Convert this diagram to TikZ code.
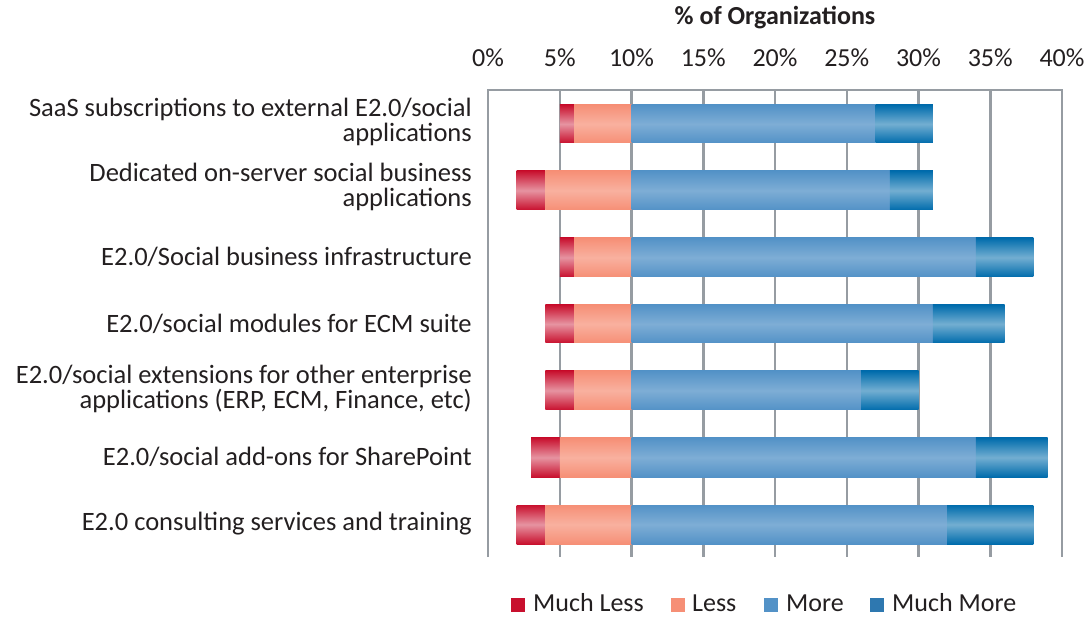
\documentclass[tikz,border=0pt]{standalone}
\usepackage{fontspec}
\setmainfont{Carlito}
\usepackage{tikz}
\usetikzlibrary{positioning}
\definecolor{mlcol}{RGB}{200,16,46}
\definecolor{lcol}{RGB}{246,143,118}
\definecolor{mcol}{RGB}{83,146,199}
\definecolor{mmcol}{RGB}{0,108,172}
\definecolor{mmleg}{RGB}{46,120,176}
\definecolor{gridcol}{RGB}{150,156,162}
\definecolor{txtcol}{RGB}{35,31,32}
\tikzstyle{catlabel} = [anchor=east, align=right, inner sep=0pt, text=txtcol,
    font=\fontsize{26.5}{25}\selectfont]
\tikzstyle{ticklabel} = [anchor=center, inner sep=0pt, text=txtcol,
    font=\fontsize{26}{23}\selectfont]
\tikzstyle{legtext} = [anchor=west, inner sep=0pt, text=txtcol,
    font=\fontsize{26}{23}\selectfont]
\tikzstyle{gridline} = [draw=gridcol, line width=2.5pt]
\tikzstyle{muchless} = [top color=mlcol, bottom color=mlcol, middle color=mlcol!45!white]
\tikzstyle{less} = [top color=lcol, bottom color=lcol, middle color=lcol!70!white]
\tikzstyle{more} = [top color=mcol, bottom color=mcol, middle color=mcol!75!white]
\tikzstyle{muchmore} = [top color=mmcol, bottom color=mmcol, middle color=mmcol!55!white]

\begin{document}
\begin{tikzpicture}[x=1pt, y=-1pt]
\useasboundingbox (0,0) rectangle (1090,617);
% axis title and tick labels
\node[ticklabel, font=\fontsize{26}{23}\selectfont\bfseries] (title) at (775,18) {\% of Organizations};
\foreach \p in {0,5,...,40}
    \node[ticklabel] (tick\p) at (488+14.35*\p,58) {\p\%};
% grid
\foreach \p in {5,10,...,35}
    \draw[gridline] (488+14.35*\p,90) -- (488+14.35*\p,557);
\draw[gridline] (488,557) -- (488,90) -- (1062,90) -- (1062,557);
% bars: much less, less, more, much more
\begin{scope}[shift={(488,0)}, x=14.35pt]
\shade[muchless] (5,105) rectangle (6,143);
\shade[less] (6,105) rectangle (10,143);
\shade[more] (10,105) rectangle (27,143);
\shade[muchmore] (27,105) rectangle (31,143);

\shade[muchless] (2,171) rectangle (4,210);
\shade[less] (4,171) rectangle (10,210);
\shade[more] (10,171) rectangle (28,210);
\shade[muchmore] (28,171) rectangle (31,210);

\shade[muchless] (5,238) rectangle (6,277);
\shade[less] (6,238) rectangle (10,277);
\shade[more] (10,238) rectangle (34,277);
\shade[muchmore] (34,238) rectangle (38,277);

\shade[muchless] (4,305) rectangle (6,343);
\shade[less] (6,305) rectangle (10,343);
\shade[more] (10,305) rectangle (31,343);
\shade[muchmore] (31,305) rectangle (36,343);

\shade[muchless] (4,371) rectangle (6,410);
\shade[less] (6,371) rectangle (10,410);
\shade[more] (10,371) rectangle (26,410);
\shade[muchmore] (26,371) rectangle (30,410);

\shade[muchless] (3,438) rectangle (5,477);
\shade[less] (5,438) rectangle (10,477);
\shade[more] (10,438) rectangle (34,477);
\shade[muchmore] (34,438) rectangle (39,477);

\shade[muchless] (2,505) rectangle (4,544);
\shade[less] (4,505) rectangle (10,544);
\shade[more] (10,505) rectangle (32,544);
\shade[muchmore] (32,505) rectangle (38,544);
\end{scope}
% category labels
\node[catlabel] (saas) at (472,122) {SaaS subscriptions to external E2.0/social\\applications};
\node[catlabel] (dedicated) at (472,187) {Dedicated on-server social business\\applications};
\node[catlabel] (infra) at (472,257) {E2.0/Social business infrastructure};
\node[catlabel] (ecm) at (472,324) {E2.0/social modules for ECM suite};
\node[catlabel] (ext) at (472,389) {E2.0/social extensions for other enterprise\\applications (ERP, ECM, Finance, etc)};
\node[catlabel] (sharepoint) at (472,457) {E2.0/social add-ons for SharePoint};
\node[catlabel] (consulting) at (472,524) {E2.0 consulting services and training};
% legend
\fill[mlcol] (511,598) rectangle (525,612);
\node[legtext] (legml) at (533,603) {Much Less};
\fill[lcol] (671,598) rectangle (685,612);
\node[legtext] (legl) at (692,603) {Less};
\fill[mcol] (764,598) rectangle (778,612);
\node[legtext] (legm) at (786,603) {More};
\fill[mmleg] (870,598) rectangle (884,612);
\node[legtext] (legmm) at (892,603) {Much More};
\end{tikzpicture}
\end{document}
